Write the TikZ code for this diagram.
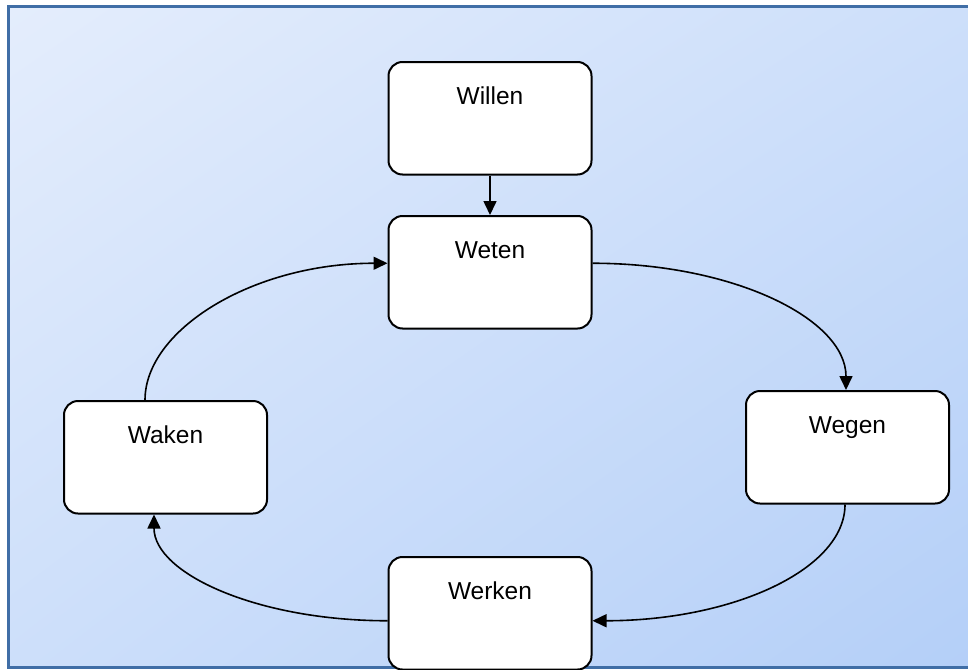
\documentclass[tikz,border=0pt]{standalone}
\usepackage{fontspec}
\setmainfont{Liberation Sans}
\usepackage{tikz}
\usetikzlibrary{arrows.meta,shadings}

\definecolor{bglight}{RGB}{228,237,252}
\definecolor{bgmid}{RGB}{205,223,250}
\definecolor{bgdark}{RGB}{180,207,248}
\definecolor{framecol}{RGB}{64,110,166}

\tikzset{
  stage/.style={draw,line width=2pt,rounded corners=14pt,fill=white,anchor=north west,
    minimum width=203pt,inner sep=0pt,text height=42.5pt,text depth=70pt,
    font=\fontsize{24.5}{29}\selectfont},
  flow/.style={->,line width=1.6pt}
}

\begin{document}
\begin{tikzpicture}[x=1pt,y=-1pt,>={Triangle[length=14pt,width=13pt]}]
                \useasboundingbox (0,0) rectangle (968,669);
                \clip (0,0) rectangle (968,669);
                \shade [upper left=bglight,upper right=bgmid,lower left=bgmid,lower right=bgdark] (8.5,6.5) rectangle (968,667.5);
                \draw [framecol,line width=2.5pt] (990,6.5) -- (8.5,6.5) -- (8.5,667.5) -- (990,667.5);
                \node [stage] (willen) at (387.5,61) {Willen};
                \node [stage] (weten) at (387.5,215) {Weten};
                \node [stage] (wegen) at (745,390) {Wegen};
                \node [stage] (werken) at (387.5,556) {Werken};
                \node [stage] (waken) at (63,400) {Waken};
                \draw [flow] (willen.south) -- (weten.north);
                \draw [flow] ([yshift=9pt]weten.east) .. controls +(141,0) and +(0,-71) .. ([xshift=-1.5pt]wegen.north);
                \draw [flow] ([xshift=-2.5pt]wegen.south) .. controls +(0,65) and +(140,0) .. ([yshift=-7.5pt]werken.east);
                \draw [flow] ([yshift=-7.5pt]werken.west) .. controls +(-130,0) and +(0,59) .. ([xshift=-11.5pt]waken.south);
                \draw [flow] ([xshift=-20.5pt]waken.north) .. controls +(0,-70) and +(-135,0) .. ([yshift=9pt]weten.west);
            \end{tikzpicture}
\end{document}
